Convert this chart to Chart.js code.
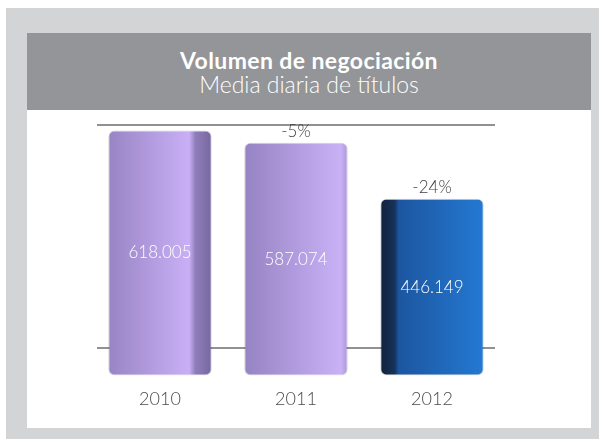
<!DOCTYPE html>
<html>
<head>
<meta charset="utf-8">
<script src="https://cdn.jsdelivr.net/npm/chart.js@4"></script>
<style>
  html, body { margin: 0; padding: 0; background: #ffffff; }
  #frame { position: absolute; left: 6px; top: 8px; width: 593px; height: 431px; background: #d3d4d6; }
  #panel { position: absolute; left: 27px; top: 33px; width: 564px; height: 395px; background: #ffffff; }
  #band { position: absolute; left: 27px; top: 33px; width: 564px; height: 77px; background: #939598;
          color: #ffffff; text-align: center; font-family: Lato, sans-serif; }
  #band .t1 { font-weight: bold; font-size: 23px; margin-top: 15px; line-height: 24px; letter-spacing: 0.4px; }
  #band .t2 { font-weight: 300; font-size: 23px; line-height: 24px; }
  #chartBox { position: absolute; left: 0; top: 0; width: 605px; height: 446px; }
</style>
</head>
<body>
<div id="frame"></div>
<div id="panel"></div>
<div id="band">
  <div class="t1">Volumen de negociación</div>
  <div class="t2">Media diaria de títulos</div>
</div>
<div id="chartBox"><canvas id="volChart" width="605" height="446"></canvas></div>
<script>
// Data
var years = ['2010', '2011', '2012'];
var volumes = [618005, 587074, 446149];
var volumeLabels = ['618.005', '587.074', '446.149'];
var changeLabels = ['', '-5%', '-24%'];
var guideValues = [70000, 632000];

document.addEventListener('DOMContentLoaded', function() {
    // gradient stops for each bar (front face + 3D side)
    var barStops = [
        [[0, '#9884c4'], [0.78, '#c9b0f6'], [0.84, '#8f7dbb'], [1, '#76679f']],
        [[0, '#9683c3'], [0.93, '#cab1f7'], [1, '#a996d6']],
        [[0, '#12213a'], [0.14, '#16325a'], [0.18, '#1c56a0'], [1, '#2479d3']]
    ];
    var flatColors = ['#b09ee0', '#b09ee0', '#1f64b4'];

    function barGradient(ctx) {
        var chart = ctx.chart;
        var xScale = chart.scales.x;
        if (!xScale || ctx.dataIndex === undefined) return flatColors[0];
        var cx = xScale.getPixelForValue(ctx.dataIndex);
        if (!isFinite(cx)) return flatColors[ctx.dataIndex];
        var g = chart.ctx.createLinearGradient(cx - 52, 0, cx + 52, 0);
        barStops[ctx.dataIndex].forEach(function(s) { g.addColorStop(s[0], s[1]); });
        return g;
    }

    // horizontal guide lines + labels on the bars
    var decorPlugin = {
        id: 'decor',
        beforeDatasetsDraw: function(chart) {
            var c = chart.ctx, area = chart.chartArea, y = chart.scales.y;
            c.save();
            c.strokeStyle = '#919191';
            c.lineWidth = 2;
            guideValues.forEach(function(v) {
                var py = Math.round(y.getPixelForValue(v));
                c.beginPath();
                c.moveTo(area.left + 5, py);
                c.lineTo(area.right - 5, py);
                c.stroke();
            });
            c.restore();
        },
        afterDatasetsDraw: function(chart) {
            var c = chart.ctx;
            var meta = chart.getDatasetMeta(0);
            c.save();
            c.textAlign = 'center';
            c.textBaseline = 'middle';
            c.font = '300 17px Lato, sans-serif';
            meta.data.forEach(function(bar, i) {
                c.fillStyle = '#ffffff';
                c.fillText(volumeLabels[i], bar.x, (bar.y + bar.base) / 2);
                if (changeLabels[i]) {
                    c.fillStyle = '#404040';
                    c.fillText(changeLabels[i], bar.x, bar.y - 11);
                }
            });
            c.restore();
        }
    };

    var ctx = document.getElementById('volChart').getContext('2d');
    var volChart = new Chart(ctx, {
        type: 'bar',
        data: {
            labels: years,
            datasets: [{
                label: 'Media diaria de títulos',
                data: volumes,
                backgroundColor: barGradient,
                borderColor: 'rgba(60, 60, 90, 0.25)',
                borderWidth: 1,
                borderRadius: 6,
                borderSkipped: false,
                barPercentage: 0.76,
                categoryPercentage: 1
            }]
        },
        options: {
            responsive: false,
            animation: false,
            layout: {
                padding: { top: 125, left: 92, right: 105, bottom: 31 }
            },
            plugins: {
                legend: { display: false },
                tooltip: { enabled: false }
            },
            scales: {
                x: {
                    grid: { display: false },
                    border: { display: false },
                    ticks: {
                        padding: 5,
                        color: '#4a4a4a',
                        font: { family: 'Lato, sans-serif', size: 18, weight: '300' }
                    }
                },
                y: {
                    display: false,
                    min: 0,
                    max: 632000
                }
            }
        },
        plugins: [decorPlugin]
    });
});
</script>
</body>
</html>
